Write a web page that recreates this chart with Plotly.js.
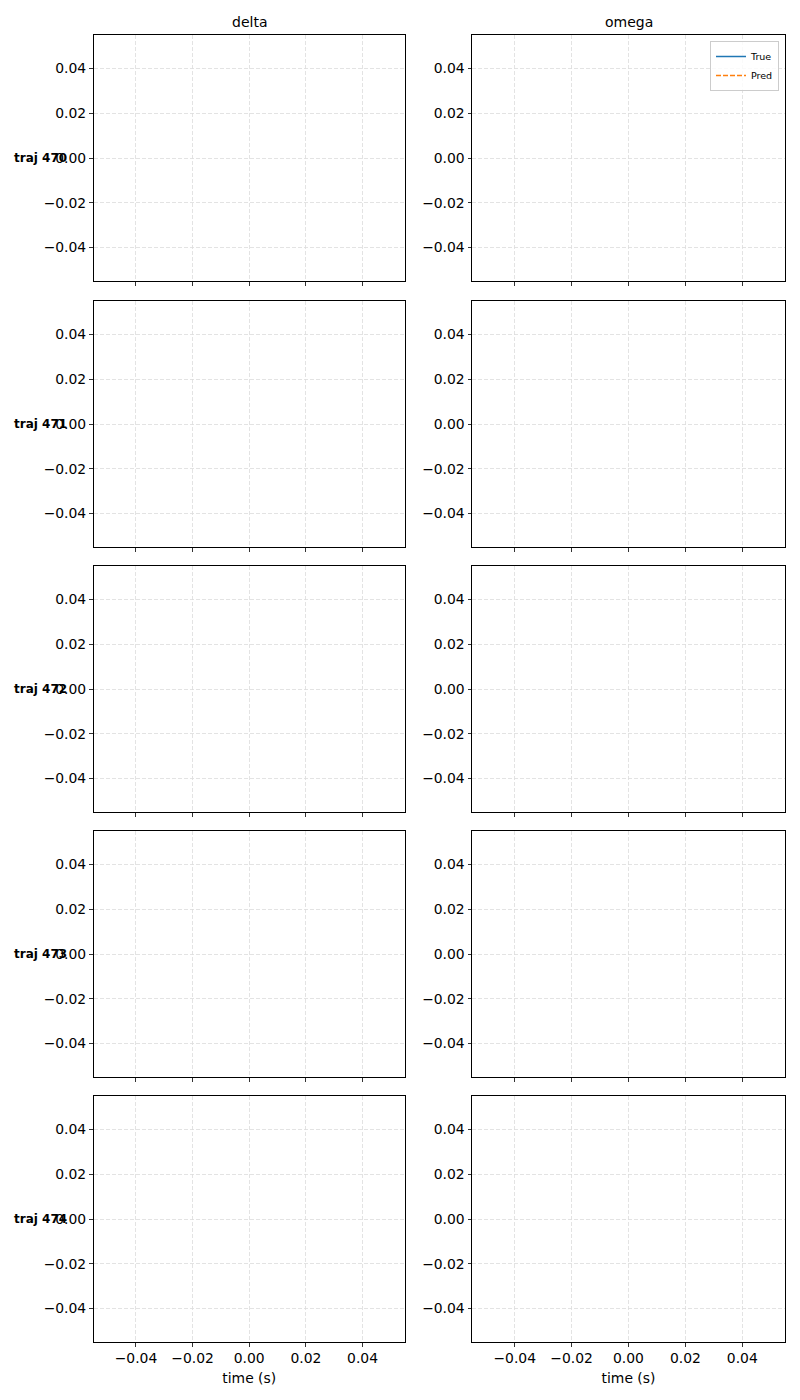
<!DOCTYPE html>
<html><head><meta charset="utf-8">
<script src="https://cdn.plot.ly/plotly-3.0.1.min.js"></script>
<style>html,body{margin:0;padding:0;background:#fff}#chart{width:800px;height:1400px}</style>
</head><body><div id="chart"></div>
<script>
// ---- data (the reference panels are empty) ----
const trajIds = [470, 471, 472, 473, 474];
const variables = ['delta', 'omega'];
const timeValues = [];      // no samples plotted
const trueValues = [];      // no samples plotted
const predValues = [];      // no samples plotted
const tickVals = [-0.04, -0.02, 0.0, 0.02, 0.04];
const axisRange = [-0.055, 0.055];
const seriesNames = ['True', 'Pred'];
const seriesColors = ['#1f77b4', '#ff7f0e'];

const W = 800, H = 1400;
const colX = [[93.5, 405], [472, 785]];
const rowTop = [35, 301, 566, 831, 1096];
const rowH = 246;
const FONT = 'DejaVu Sans';

// empty series still need a placeholder point so the legend entry is drawn
const orNull = a => (a.length ? a : [null]);

const traces = [];
const layout = {
  width: W, height: H,
  margin: {l: 0, r: 0, t: 0, b: 0},
  paper_bgcolor: '#fff', plot_bgcolor: '#fff',
  font: {family: FONT, size: 13.9, color: '#000'},
  showlegend: true,
  legend: {
    x: 779 / W, xanchor: 'right', y: 1 - 41 / H, yanchor: 'top',
    bgcolor: 'rgba(255,255,255,0.8)', bordercolor: '#cccccc', borderwidth: 1,
    font: {family: FONT, size: 9.5, color: '#000'},
    tracegroupgap: 0, itemwidth: 30, traceorder: 'normal'
  },
  annotations: [],
  shapes: []
};

trajIds.forEach((tid, r) => {
  variables.forEach((v, c) => {
    const idx = r * 2 + c + 1;
    const xa = 'xaxis' + (idx === 1 ? '' : idx);
    const ya = 'yaxis' + (idx === 1 ? '' : idx);
    const xr = 'x' + (idx === 1 ? '' : idx);
    const yr = 'y' + (idx === 1 ? '' : idx);
    const bottom = r === trajIds.length - 1;
    const common = {
      range: axisRange, autorange: false,
      tickvals: tickVals, tickformat: '.2f',
      ticks: 'outside', ticklen: 3.5, tickwidth: 0.8, tickcolor: '#000',
      showline: true, linecolor: '#000', linewidth: 1, mirror: true,
      showgrid: true, gridcolor: '#dcdcdc', griddash: '4px,2px', gridwidth: 0.8,
      zeroline: false,
      tickfont: {family: FONT, size: 13.9, color: '#000'}
    };
    layout[xa] = Object.assign({}, common, {
      domain: [colX[c][0] / W, colX[c][1] / W],
      anchor: yr, showticklabels: bottom,
      title: bottom ? {text: 'time (s)', font: {family: FONT, size: 13.9, color: '#000'}, standoff: 8} : {text: ''}
    });
    layout[ya] = Object.assign({}, common, {
      domain: [1 - (rowTop[r] + rowH) / H, 1 - rowTop[r] / H],
      anchor: xr
    });
    // True & Pred series (empty in reference)
    [trueValues, predValues].forEach((vals, s) => {
      traces.push({
        type: 'scatter', mode: 'lines', x: orNull(timeValues), y: orNull(vals),
        xaxis: xr, yaxis: yr, name: seriesNames[s],
        line: {color: seriesColors[s], width: 1.5, dash: s === 1 ? '5px,2px' : 'solid'},
        showlegend: idx === 2, legendgroup: seriesNames[s]
      });
    });
    if (r === 0) {
      layout.annotations.push({
        xref: 'paper', yref: 'paper',
        x: (colX[c][0] + colX[c][1]) / 2 / W, y: 1 - 22 / H,
        xanchor: 'center', yanchor: 'middle', showarrow: false,
        text: v, font: {family: FONT, size: 14, color: '#000'}
      });
    }
    if (c === 0) {
      layout.annotations.push({
        xref: 'paper', yref: yr + ' domain',
        x: 12 / W, y: 0.5, xanchor: 'left', yanchor: 'middle', showarrow: false,
        text: '<b>traj ' + tid + '</b>', font: {family: FONT, size: 12, color: '#000'}
      });
    }
  });
});

Plotly.newPlot('chart', traces, layout, {staticPlot: true, displayModeBar: false});
</script>
</body></html>
